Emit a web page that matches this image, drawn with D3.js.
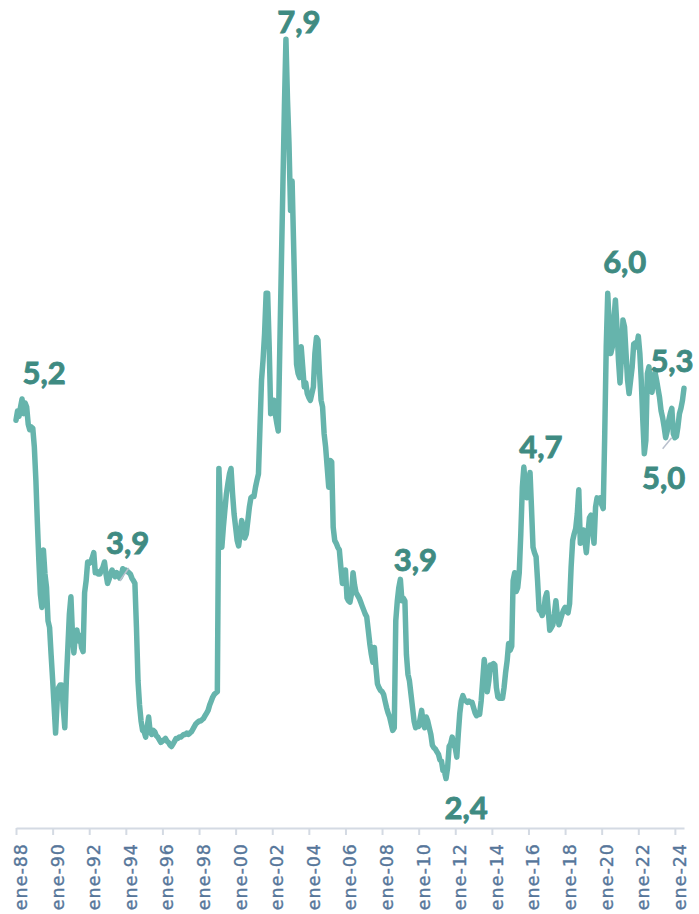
<!DOCTYPE html>
<html>
<head>
<meta charset="utf-8">
<script src="https://cdn.jsdelivr.net/npm/d3@7"></script>
<style>
  body { margin: 0; background: #fff; }
</style>
</head>
<body>
<div id="chart"></div>
<script>
let w = 699;
let h = 914;

// monthly values, first one is ene-88
let firstMonth = "1988-01";
let v88_93 = [
  5.05, 5.12, 5.08, 5.15, 5.21, 5.10, 5.18, 5.15, 5.02, 4.98, 5.00, 4.99,
  4.85, 4.60, 4.30, 4.00, 3.75, 3.65, 4.08, 3.90, 3.80, 3.55, 3.50, 3.30,
  3.11, 2.90, 2.71, 2.95, 3.05, 3.07, 3.07, 2.90, 2.75, 3.10, 3.35, 3.60,
  3.73, 3.45, 3.31, 3.45, 3.48, 3.40, 3.44, 3.35, 3.32, 3.76, 3.85, 3.99,
  3.98, 3.99, 4.02, 4.06, 3.91, 3.92, 3.90, 3.90, 3.93, 3.95, 3.99, 3.90,
  3.83, 3.86, 3.90, 3.93, 3.90, 3.88, 3.91, 3.90, 3.87, 3.89, 3.94, 3.92
];
let v94_99 = [
  3.93, 3.92, 3.91, 3.90, 3.87, 3.85, 3.83, 3.50, 3.10, 2.92, 2.80, 2.73,
  2.72, 2.68, 2.75, 2.83, 2.72, 2.70, 2.73, 2.72, 2.69, 2.68, 2.66, 2.64,
  2.65, 2.66, 2.67, 2.65, 2.64, 2.62, 2.61, 2.63, 2.65, 2.67, 2.67, 2.68,
  2.68, 2.69, 2.70, 2.70, 2.71, 2.70, 2.71, 2.72, 2.74, 2.76, 2.78, 2.79,
  2.80, 2.80, 2.81, 2.82, 2.84, 2.86, 2.88, 2.92, 2.95, 2.98, 3.00, 3.01,
  3.02, 4.69, 4.40, 4.10, 4.25, 4.38, 4.50, 4.58, 4.65, 4.69, 4.50, 4.35
];
let v00_05 = [
  4.25, 4.15, 4.11, 4.20, 4.30, 4.25, 4.17, 4.20, 4.30, 4.40, 4.47, 4.48,
  4.48, 4.55, 4.60, 4.65, 5.00, 5.35, 5.50, 5.70, 6.00, 6.00, 5.60, 5.10,
  5.15, 5.20, 5.10, 5.03, 4.97, 5.60, 6.20, 6.80, 7.40, 7.90, 7.45, 7.12,
  6.62, 6.84, 6.40, 5.90, 5.47, 5.40, 5.37, 5.60, 5.45, 5.30, 5.33, 5.25,
  5.22, 5.20, 5.25, 5.30, 5.55, 5.67, 5.65, 5.40, 5.20, 5.15, 4.95, 4.85,
  4.70, 4.55, 4.75, 4.74, 4.25, 4.15, 4.13, 4.10, 4.08, 3.95, 3.83, 3.85
];
let v06_11 = [
  3.93, 3.72, 3.70, 3.69, 3.75, 3.91, 3.82, 3.76, 3.74, 3.72, 3.69, 3.66,
  3.63, 3.60, 3.58, 3.48, 3.38, 3.30, 3.24, 3.35, 3.20, 3.08, 3.05, 3.03,
  3.02, 3.00, 2.95, 2.90, 2.86, 2.83, 2.78, 2.73, 2.75, 3.55, 3.70, 3.80,
  3.86, 3.70, 3.72, 3.70, 3.30, 3.15, 3.10, 3.00, 2.90, 2.80, 2.75, 2.78,
  2.76, 2.82, 2.88, 2.78, 2.75, 2.83, 2.80, 2.75, 2.70, 2.62, 2.60, 2.59,
  2.57, 2.55, 2.51, 2.50, 2.43, 2.42, 2.37, 2.45, 2.61, 2.63, 2.68, 2.62
];
let v12_17 = [
  2.60, 2.53, 2.70, 2.86, 2.95, 2.99, 2.96, 2.95, 2.94, 2.95, 2.94, 2.94,
  2.90, 2.86, 2.84, 2.85, 2.85, 2.95, 3.10, 3.26, 3.15, 3.02, 3.10, 3.22,
  3.22, 3.23, 3.22, 3.05, 2.98, 2.97, 2.97, 2.97, 3.05, 3.16, 3.25, 3.38,
  3.33, 3.36, 3.85, 3.91, 3.77, 3.80, 3.91, 4.20, 4.55, 4.70, 4.55, 4.47,
  4.55, 4.66, 4.40, 4.10, 4.06, 4.03, 3.85, 3.63, 3.62, 3.59, 3.62, 3.72,
  3.76, 3.62, 3.48, 3.50, 3.52, 3.60, 3.70, 3.58, 3.52, 3.56, 3.60, 3.63
];
let v18_24 = [
  3.65, 3.62, 3.61, 3.68, 3.95, 4.15, 4.20, 4.24, 4.35, 4.53, 4.13, 4.18,
  4.23, 4.15, 4.06, 4.20, 4.32, 4.34, 4.25, 4.13, 4.40, 4.47, 4.46, 4.47,
  4.42, 4.39, 4.92, 5.60, 6.00, 5.75, 5.55, 5.60, 5.80, 5.95, 5.75, 5.50,
  5.33, 5.55, 5.80, 5.75, 5.55, 5.35, 5.25, 5.35, 5.45, 5.62, 5.63, 5.60,
  5.68, 5.55, 5.35, 5.05, 4.80, 4.90, 5.40, 5.45, 5.30, 5.26, 5.35, 5.41,
  5.35, 5.28, 5.22, 5.12, 5.07, 5.00, 4.92, 4.97, 5.05, 5.10, 5.14, 4.95,
  4.92, 4.93, 5.00, 5.10, 5.14, 5.20, 5.29
];

// tick labels every two years
let tickYears = d3.range(1988, 2025, 2);

// data labels
let labelTexts  = ["5,2", "3,9", "7,9", "3,9", "2,4", "4,7", "6,0", "5,0", "5,3"];
let labelMonths = ["1988-05", "1993-09", "2002-10", "2009-01", "2011-07", "2015-10", "2020-05", "2023-07", "2024-07"];

let parseMonth = d3.timeParse("%Y-%m");
let start = parseMonth(firstMonth);

let allValues = v88_93.concat(v94_99, v00_05, v06_11, v12_17, v18_24);
let data = allValues.map(function(v, i){
  return { date: d3.timeMonth.offset(start, i), value: v };
});

let viz = d3.select("#chart")
  .append("svg")
  .attr("width", w)
  .attr("height", h)
  .style("background-color", "white");

let xScale = d3.scaleTime()
  .domain([start, data[data.length-1].date])
  .range([16, 684]);
let yScale = d3.scaleLinear()
  .domain([2, 8])
  .range([828, 26]);

// x axis
let xAxis = d3.axisBottom(xScale)
  .tickValues(tickYears.map(function(y){ return new Date(y, 0, 1); }))
  .tickFormat(function(d){ return "ene-" + d3.timeFormat("%y")(d); })
  .tickSize(7)
  .tickSizeOuter(0);

let xAxisGroup = viz.append("g")
  .attr("class", "xaxisgroup")
  .attr("transform", "translate(0,828)")
  .call(xAxis);

xAxisGroup.select(".domain").attr("stroke", "#d4dae3").attr("stroke-width", 2);
xAxisGroup.selectAll(".tick line").attr("stroke", "#d4dae3").attr("stroke-width", 2);
xAxisGroup.selectAll(".tick text")
  .attr("transform", "rotate(-90)")
  .attr("text-anchor", "end")
  .attr("x", -15)
  .attr("y", 0)
  .attr("dy", "0.6em")
  .attr("fill", "#56769a")
  .attr("stroke", "#56769a")
  .attr("stroke-width", 0.35)
  .style("font-family", "'DejaVu Sans', sans-serif")
  .style("font-size", "17.5px")
  .style("letter-spacing", "1px");

// the line
let line = d3.line()
  .x(function(d){ return xScale(d.date); })
  .y(function(d){ return yScale(d.value); });

viz.append("path")
  .datum(data)
  .attr("d", line)
  .attr("fill", "none")
  .attr("stroke", "#66b4ac")
  .attr("stroke-width", 5.5)
  .attr("stroke-linejoin", "round")
  .attr("stroke-linecap", "round");

// label offsets (center x, baseline y) from the point
let offsets = [[22,-15],[8,-24],[13,-6],[15,-8],[20,40],[17,-9],[17,-20],[-2,51],[-12,-16]];

let labels = labelTexts.map(function(t, i){
  let d = parseMonth(labelMonths[i]);
  let pt = data.find(function(p){ return +p.date === +d; });
  return { text: t, x: xScale(pt.date), y: yScale(pt.value), dx: offsets[i][0], dy: offsets[i][1] };
});

// leader lines for two labels
viz.append("line")
  .attr("x1", labels[1].x).attr("y1", labels[1].y + 3)
  .attr("x2", labels[1].x + 9).attr("y2", labels[1].y - 10)
  .attr("stroke", "#b9c0cd").attr("stroke-width", 1.5);
viz.append("line")
  .attr("x1", labels[7].x - 3).attr("y1", labels[7].y + 11)
  .attr("x2", labels[7].x + 6).attr("y2", labels[7].y)
  .attr("stroke", "#b9c0cd").attr("stroke-width", 1.5);

viz.selectAll(".datalabel").data(labels).enter()
  .append("text")
  .attr("class", "datalabel")
  .attr("x", function(d){ return d.x + d.dx; })
  .attr("y", function(d){ return d.y + d.dy; })
  .attr("text-anchor", "middle")
  .attr("fill", "#3f8b82")
  .attr("stroke", "#3f8b82")
  .attr("stroke-width", 0.9)
  .style("font-family", "Lato, sans-serif")
  .style("font-weight", "bold")
  .style("font-size", "31px")
  .text(function(d){ return d.text; });
</script>
</body>
</html>
